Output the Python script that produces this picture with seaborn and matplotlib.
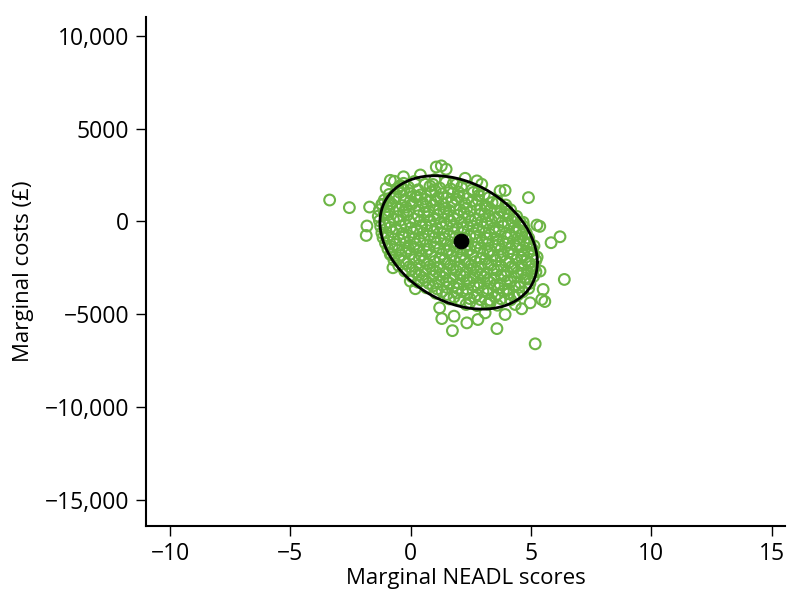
import numpy as np
import pandas as pd
import matplotlib
matplotlib.use("Agg")
import matplotlib.pyplot as plt
import seaborn as sns

# ---------------- data ----------------
# bootstrap replicates: marginal NEADL score (x) and marginal cost in GBP (y)
neadl = [
    # outer / isolated points
    -3.37, -2.55, -1.71, -1.20, -1.82, -1.85, -0.85, -0.68, -1.02, 1.06, 1.27, 1.47,
    2.75, 2.95, 4.89, 3.71, 3.92, 5.24, 4.67, 6.20, 5.83, 4.61, 4.82, 6.38,
    5.44, 5.37, 4.96, 4.61, 3.92, 3.58, 2.79, 2.33, 1.80, 1.73, 1.29, 5.17,
    3.30, 3.09, 4.06, 4.34, -0.74, -0.02, 0.19, 1.20, 5.57, 5.50, 5.36, 2.26,
    -0.80, -1.05, 0.40, -0.30,
    # dense cloud, set A, rows from top to bottom
    -0.3, 0.15, 0.6, 1.0, 1.45, 1.9,
    -0.55, -0.1, 0.3, 0.8, 1.2, 1.65, 2.1, 2.55,
    -0.9, -0.45, 0.0, 0.4, 0.85, 1.3, 1.75, 2.2, 2.6, 3.05,
    -1.1, -0.7, -0.25, 0.2, 0.6, 1.05, 1.5, 1.9, 2.35, 2.8, 3.25, 3.6,
    -1.2, -0.8, -0.35, 0.05, 0.5, 0.95, 1.35, 1.8, 2.25, 2.7, 3.1, 3.55, 3.95,
    -1.3, -0.9, -0.5, -0.1, 0.35, 0.75, 1.2, 1.6, 2.05, 2.5, 2.9, 3.3, 3.75, 4.15,
    -1.35, -0.95, -0.55, -0.15, 0.3, 0.7, 1.1, 1.55, 1.95, 2.4, 2.85, 3.25, 3.65, 4.05, 4.4,
    -1.3, -0.9, -0.45, -0.05, 0.4, 0.8, 1.25, 1.65, 2.1, 2.5, 2.95, 3.35, 3.8, 4.2, 4.55,
    -1.25, -0.85, -0.4, 0.0, 0.45, 0.85, 1.3, 1.75, 2.15, 2.6, 3.0, 3.45, 3.85, 4.3, 4.7,
    -1.2, -0.75, -0.35, 0.1, 0.5, 0.95, 1.35, 1.8, 2.2, 2.65, 3.1, 3.5, 3.95, 4.35, 4.8,
    -1.15, -0.7, -0.3, 0.15, 0.55, 1.0, 1.4, 1.85, 2.3, 2.7, 3.15, 3.55, 4.0, 4.45, 4.9,
    -1.05, -0.65, -0.2, 0.2, 0.65, 1.05, 1.5, 1.9, 2.35, 2.8, 3.2, 3.65, 4.05, 4.5, 4.95,
    -0.95, -0.5, -0.1, 0.35, 0.75, 1.2, 1.6, 2.05, 2.45, 2.9, 3.3, 3.75, 4.15, 4.6, 5.05,
    -0.85, -0.4, 0.0, 0.45, 0.85, 1.3, 1.7, 2.15, 2.55, 3.0, 3.4, 3.85, 4.25, 4.7, 5.1,
    -0.7, -0.3, 0.15, 0.55, 1.0, 1.4, 1.85, 2.25, 2.7, 3.1, 3.55, 3.95, 4.4, 4.8, 5.2,
    -0.5, -0.05, 0.35, 0.8, 1.2, 1.65, 2.05, 2.5, 2.9, 3.35, 3.75, 4.2, 4.6, 5.0,
    -0.25, 0.2, 0.6, 1.05, 1.45, 1.9, 2.3, 2.75, 3.15, 3.6, 4.0, 4.45, 4.85, 5.2,
    0.05, 0.5, 0.9, 1.35, 1.75, 2.2, 2.6, 3.05, 3.45, 3.9, 4.3, 4.75, 5.1,
    0.3, 0.75, 1.15, 1.6, 2.0, 2.45, 2.85, 3.3, 3.7, 4.15, 4.55, 4.95,
    0.65, 1.1, 1.5, 1.95, 2.35, 2.8, 3.2, 3.65, 4.05, 4.5, 4.9,
    1.05, 1.5, 1.9, 2.35, 2.75, 3.2, 3.6, 4.05, 4.45,
    1.6, 2.05, 2.45, 2.9, 3.3, 3.75, 4.15,
    2.3, 2.75, 3.2, 3.6,
    # dense cloud, set B, sparser rows between those of set A
    -0.42, 0.92, 1.77,
    -0.28, 1.02, 1.98, 2.81,
    -0.62, 0.27, 1.14, 2.0, 2.82,
    -0.92, -0.02, 0.83, 1.7, 2.55, 3.38,
    -1.0, -0.2, 0.62, 1.45, 2.33, 3.18, 3.98,
    -1.1, -0.3, 0.55, 1.38, 2.22, 3.07, 3.88,
    -0.72, 0.14, 0.97, 1.8, 2.68, 3.52, 4.32,
    -1.08, -0.22, 0.62, 1.48, 2.35, 3.18, 4.05,
    -0.6, 0.25, 1.1, 1.95, 2.82, 3.67, 4.5,
    -0.95, -0.08, 0.75, 1.6, 2.45, 3.3, 4.15,
    -0.45, 0.38, 1.25, 2.1, 2.97, 3.82, 4.7,
    -0.78, 0.12, 0.98, 1.82, 2.68, 3.52, 4.38, 5.12,
    -0.2, 0.65, 1.5, 2.35, 3.2, 4.05, 4.9,
    -0.5, 0.35, 1.2, 2.05, 2.9, 3.75, 4.6, 5.25,
    -0.18, 0.68, 1.52, 2.38, 3.22, 4.08, 4.92,
    0.05, 0.9, 1.75, 2.6, 3.45, 4.3, 5.12,
    0.35, 1.2, 2.05, 2.9, 3.75, 4.6,
    0.62, 1.48, 2.32, 3.18, 4.02, 4.85,
    0.92, 1.78, 2.62, 3.48, 4.32,
    1.3, 2.15, 3.0, 3.85, 4.65,
    1.8, 2.65, 3.5, 4.3,
    2.45, 3.3,
]
cost = [
    1150, 740, 770, 920, -250, -760, 2210, 2160, 1780, 2930, 2990, 2810,
    2180, 2000, 1280, 1640, 1670, -200, -50, -830, -1150, -700, -1240, -3130,
    -4210, -2680, -4390, -4710, -5020, -5780, -5290, -5470, -5110, -5890, -5240, -6600,
    -4250, -4930, -3900, -4480, -2500, -3220, -3630, -4660, -4320, -3670, -270, 2320,
    -1800, 400, 2500, 2400,
    # set A
    2050, 2150, 2000, 2250, 2100, 2000,
    1750, 1850, 1700, 1900, 1800, 1750, 1850, 1700,
    1450, 1550, 1500, 1420, 1600, 1480, 1530, 1400, 1560, 1450,
    1150, 1250, 1180, 1300, 1200, 1120, 1260, 1190, 1230, 1150, 1280, 1100,
    880, 950, 850, 920, 980, 870, 930, 860, 950, 900, 840, 960, 880,
    620, 560, 650, 580, 610, 540, 660, 590, 630, 560, 650, 600, 570, 620,
    280, 350, 260, 330, 300, 250, 340, 280, 320, 260, 350, 300, 240, 330, 270,
    30, -40, 50, -20, 10, 60, -50, 20, -30, 40, -10, 50, -40, 20, -60,
    -280, -330, -260, -350, -300, -250, -320, -280, -340, -270, -310, -350, -260, -320, -290,
    -620, -570, -650, -590, -630, -560, -640, -600, -580, -650, -610, -570, -640, -590, -620,
    -880, -940, -860, -920, -950, -870, -930, -890, -960, -850, -910, -940, -870, -920, -900,
    -1180, -1240, -1150, -1220, -1260, -1170, -1230, -1190, -1250, -1160, -1220, -1260, -1180, -1230, -1200,
    -1480, -1530, -1460, -1550, -1500, -1470, -1540, -1490, -1520, -1450, -1560, -1500, -1470, -1530, -1490,
    -1780, -1830, -1760, -1850, -1800, -1770, -1840, -1790, -1820, -1750, -1860, -1800, -1770, -1830, -1790,
    -2080, -2140, -2060, -2120, -2150, -2070, -2130, -2090, -2160, -2050, -2110, -2140, -2070, -2120, -2100,
    -2380, -2440, -2360, -2420, -2450, -2370, -2430, -2390, -2460, -2350, -2410, -2440, -2370, -2420,
    -2680, -2740, -2660, -2720, -2750, -2670, -2730, -2690, -2760, -2650, -2710, -2740, -2670, -2720,
    -2980, -3040, -2960, -3020, -3050, -2970, -3030, -2990, -3060, -2950, -3010, -3040, -2970,
    -3280, -3340, -3260, -3320, -3350, -3270, -3330, -3290, -3360, -3250, -3310, -3340,
    -3580, -3640, -3560, -3620, -3650, -3570, -3630, -3590, -3660, -3550, -3610,
    -3880, -3940, -3860, -3920, -3950, -3870, -3930, -3890, -3960,
    -4180, -4240, -4160, -4220, -4250, -4170, -4230,
    -4480, -4540, -4460, -4520,
    # set B
    1930, 1990, 2040,
    1700, 1640, 1580, 1630,
    1310, 1330, 1290, 1350, 1390,
    1090, 1080, 1100, 1060, 1090, 1010,
    790, 770, 800, 690, 710, 730, 700,
    480, 500, 470, 490, 460, 410, 440,
    100, 140, 110, 130, 100, 180, 160,
    -180, -170, -190, -160, -180, -110, -130,
    -410, -440, -400, -420, -450, -480, -470,
    -780, -790, -770, -760, -800, -710, -740,
    -1010, -1040, -1000, -1020, -1050, -1080, -1070,
    -1380, -1390, -1370, -1360, -1400, -1310, -1340, -1320,
    -1610, -1640, -1600, -1620, -1650, -1680, -1670,
    -1980, -1990, -1970, -1960, -2000, -1910, -1940, -1920,
    -2280, -2290, -2270, -2260, -2300, -2210, -2240,
    -2580, -2590, -2570, -2560, -2600, -2510, -2540,
    -2880, -2890, -2870, -2860, -2900, -2810,
    -3180, -3190, -3170, -3160, -3200, -3110,
    -3480, -3490, -3470, -3460, -3500,
    -3780, -3790, -3770, -3760, -3800,
    -4080, -4090, -4070, -4060,
    -4380, -4390,
]

# point estimate (mean of replicates)
mean_neadl = [2.1]
mean_cost = [-1080]

# confidence ellipse: centre, half-extent in x, half-extent in y, correlation
ell_center = [1.99, -1135]
ell_half_x = 3.27
ell_half_y = 3595
ell_corr = -0.30

x_ticks = [-10, -5, 0, 5, 10, 15]
y_ticks = [10000, 5000, 0, -5000, -10000, -15000]
y_tick_labels = ["10,000", "5000", "0", "\u22125000", "\u221210,000", "\u221215,000"]
x_tick_labels = ["\u221210", "\u22125", "0", "5", "10", "15"]

# ---------------- plot ----------------
sns.set_style("ticks")
plt.rcParams["font.family"] = ["Open Sans", "DejaVu Sans"]

GREEN = "#6cb545"

fig = plt.figure(figsize=(7.87, 5.94), dpi=100)
ax = fig.add_axes([0.1855, 0.115, 0.812, 0.856])

df = pd.DataFrame({"neadl": neadl, "cost": cost})
sns.scatterplot(data=df, x="neadl", y="cost", ax=ax, marker="o", s=60,
                facecolor="none", edgecolor=GREEN, linewidth=1.5, zorder=2)

# ellipse outline
cov = np.array([[ell_half_x ** 2, ell_corr * ell_half_x * ell_half_y],
                [ell_corr * ell_half_x * ell_half_y, ell_half_y ** 2]])
L = np.linalg.cholesky(cov)
t = np.linspace(0, 2 * np.pi, 400)
pts = L @ np.vstack([np.cos(t), np.sin(t)])
ax.plot(pts[0] + ell_center[0], pts[1] + ell_center[1], color="black", lw=2.0, zorder=3)

sns.scatterplot(x=mean_neadl, y=mean_cost, ax=ax, color="black", s=110,
                edgecolor="black", zorder=4)

ax.set_xlim(-11, 15.55)
ax.set_ylim(-16400, 11000)
ax.set_xticks(x_ticks)
ax.set_xticklabels(x_tick_labels)
ax.set_yticks(y_ticks)
ax.set_yticklabels(y_tick_labels)

for s in ["top", "right"]:
    ax.spines[s].set_visible(False)
for s in ["left", "bottom"]:
    ax.spines[s].set_linewidth(1.5)
    ax.spines[s].set_color("black")
ax.tick_params(axis="both", length=7, width=1.0, labelsize=16.5, pad=5, color="black",
               labelcolor="black")

ax.set_xlabel("Marginal NEADL scores", fontsize=16, labelpad=1, color="black")
ax.set_ylabel("Marginal costs (\u00a3)", fontsize=16, labelpad=8, color="black")

fig.savefig("out.png", dpi=100)
